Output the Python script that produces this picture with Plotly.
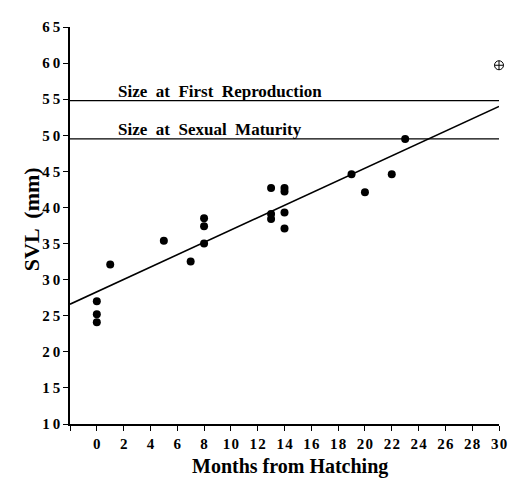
import plotly.graph_objects as go

# Data
months = [0, 0, 0, 1, 5, 7, 8, 8, 8, 13, 13, 13, 14, 14, 14, 14, 19, 20, 22, 23]
svl = [27.0, 25.2, 24.1, 32.1, 35.4, 32.5, 38.5, 37.4, 35.0, 42.7, 39.1, 38.4,
       42.7, 42.2, 39.3, 37.1, 44.6, 42.1, 44.6, 49.5]
special_x = [30]
special_y = [59.7]
fit_x = [-2, 30]
fit_y = [26.6, 54.0]
first_repro = 54.8
sexual_maturity = 49.5
x_ticks = list(range(-2, 31, 2))
x_labels = [""] + [str(v) for v in range(0, 31, 2)]
y_ticks = list(range(10, 66, 5))
y_labels = [str(v) for v in y_ticks]


def spaced(s, sep="\u2009"):
    return sep.join(s)


font = "Liberation Serif"

fig = go.Figure()
fig.add_trace(go.Scatter(x=fit_x, y=fit_y, mode="lines",
                         line=dict(color="black", width=1.6), hoverinfo="skip"))
for level in (first_repro, sexual_maturity):
    fig.add_trace(go.Scatter(x=fit_x, y=[level, level], mode="lines",
                             line=dict(color="black", width=1.3), hoverinfo="skip"))
fig.add_trace(go.Scatter(x=months, y=svl, mode="markers",
                         marker=dict(color="black", size=8)))
fig.add_trace(go.Scatter(x=special_x, y=special_y, mode="markers", cliponaxis=False,
                         marker=dict(symbol="circle-cross-open", color="black", size=9,
                                     line=dict(width=1, color="black"))))

fig.add_annotation(x=1.45, y=first_repro, text="<b>Size  at  First  Reproduction</b>",
                   showarrow=False, xanchor="left", yanchor="bottom", yshift=-2,
                   font=dict(family=font, size=17, color="black"))
fig.add_annotation(x=1.45, y=sexual_maturity, text="<b>Size  at  Sexual  Maturity</b>",
                   showarrow=False, xanchor="left", yanchor="bottom", yshift=-2,
                   font=dict(family=font, size=17, color="black"))
fig.add_annotation(x=14.4, y=0, yref="paper", text="<b>Months from Hatching</b>",
                   showarrow=False, yanchor="top", yshift=-29,
                   font=dict(family=font, size=20, color="black"))
fig.add_annotation(x=0, xref="paper", y=38.3, text="<b>SVL  (mm)</b>",
                   showarrow=False, textangle=-90, xshift=-53,
                   font=dict(family=font, size=22, color="black"))

# The page body has an 8px margin, so the figure is 8px smaller on each axis.
fig.update_layout(
    width=510, height=471,
    margin=dict(l=62, r=13, t=11, b=55),
    plot_bgcolor="white", paper_bgcolor="white",
    showlegend=False,
    xaxis=dict(range=[-2, 30], tickmode="array", tickvals=x_ticks,
               ticktext=["<b>" + spaced(t, "\u200a") + "</b>" if t else "" for t in x_labels],
               showgrid=False, zeroline=False, showline=True, linecolor="black",
               linewidth=1.5, ticks="outside", ticklen=5, tickwidth=1.3, tickcolor="black",
               tickfont=dict(family=font, size=15, color="black")),
    yaxis=dict(range=[10, 65], tickmode="array", tickvals=y_ticks,
               ticktext=["<b>" + spaced(t) + "</b>" for t in y_labels],
               showgrid=False, zeroline=False, showline=True, linecolor="black",
               linewidth=1.5, ticks="outside", ticklen=5, tickwidth=1.3, tickcolor="black",
               tickfont=dict(family=font, size=15, color="black")),
)

fig.write_html("out.html")
